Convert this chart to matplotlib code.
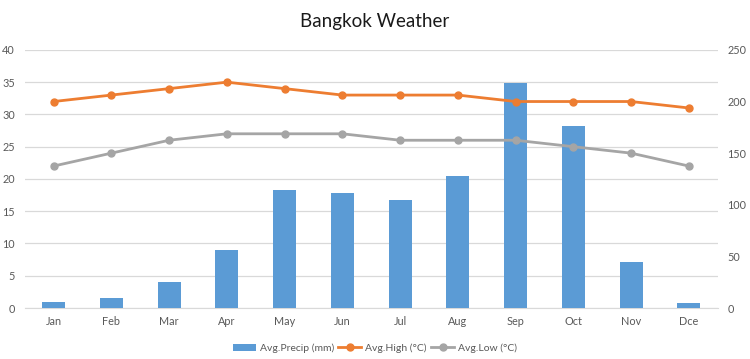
import matplotlib
matplotlib.use("Agg")
import matplotlib.pyplot as plt
import numpy as np

months = ["Jan", "Feb", "Mar", "Apr", "May", "Jun", "Jul", "Aug", "Sep", "Oct", "Nov", "Dce"]
precip = [6, 10, 25, 56, 114, 111, 105, 128, 218, 176, 45, 5]
high = [32, 33, 34, 35, 34, 33, 33, 33, 32, 32, 32, 31]
low = [22, 24, 26, 27, 27, 27, 26, 26, 26, 25, 24, 22]
left_ticks = list(range(0, 45, 5))
right_ticks = list(range(0, 300, 50))

plt.rcParams['font.family'] = ['Lato', 'DejaVu Sans']
txt = "#595959"
bar_c = "#5B9BD5"
high_c = "#ED7D31"
low_c = "#A5A5A5"
grid_c = "#D9D9D9"

fig = plt.figure(figsize=(7.5, 3.59), dpi=100)
pos = [0.033, 0.142, 0.924, 0.719]
ax = fig.add_axes(pos)
x = np.arange(len(months))

ax.set_xlim(-0.5, len(months) - 0.5)
ax.set_ylim(0, 40)
ax.set_yticks(left_ticks)
ax.set_xticks(x)
ax.set_xticklabels(months)
ax.grid(axis='y', color=grid_c, linewidth=0.9)
ax.set_axisbelow(True)
for s in ax.spines.values():
    s.set_visible(False)
ax.spines['bottom'].set_visible(True)
ax.spines['bottom'].set_color(grid_c)
ax.tick_params(axis='both', length=0, labelsize=7.8, colors=txt, pad=6)
ax.tick_params(axis='y', pad=7)

axb = ax.twinx()
axb.set_ylim(0, 250)
axb.set_yticks(right_ticks)
bars = axb.bar(x, precip, width=0.4, color=bar_c, label="Avg.Precip (mm)")
for s in axb.spines.values():
    s.set_visible(False)
axb.tick_params(axis='y', length=0, labelsize=7.8, colors=txt, pad=7)

axl = ax.twinx()
axl.set_ylim(0, 40)
axl.set_yticks([])
for s in axl.spines.values():
    s.set_visible(False)
lh, = axl.plot(x, high, color=high_c, linewidth=2, marker='o', markersize=5, label="Avg.High (°C)")
ll, = axl.plot(x, low, color=low_c, linewidth=2, marker='o', markersize=5, label="Avg.Low (°C)")

fig.suptitle("Bangkok Weather", y=0.965, fontsize=13.5, color="#1a1a1a")

fig.legend(handles=[bars, lh, ll], loc='center', bbox_to_anchor=(0.5, 0.03), ncol=3,
           frameon=False, fontsize=7.5, labelcolor=txt, handlelength=2.2, columnspacing=0.4,
           handletextpad=0.4)

fig.savefig("out.png", dpi=100)
